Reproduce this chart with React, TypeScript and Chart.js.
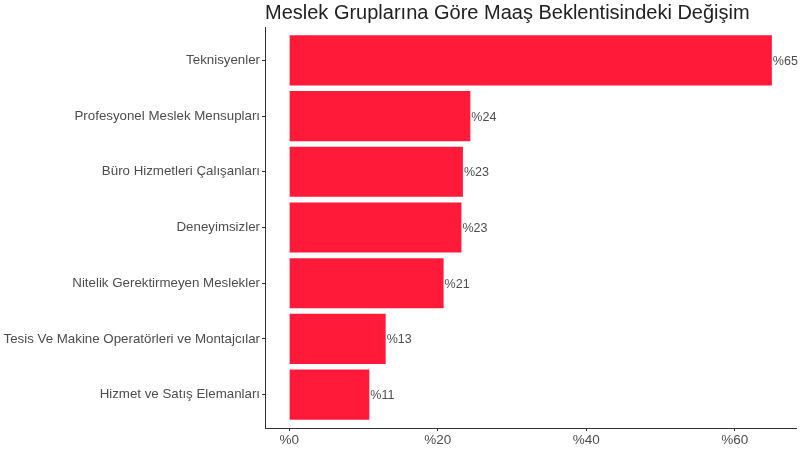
import { useEffect, useRef } from "react";
import { Chart, ChartConfiguration, Plugin, registerables } from "chart.js";

Chart.register(...registerables);

const categories = [
	"Teknisyenler",
	"Profesyonel Meslek Mensupları",
	"Büro Hizmetleri Çalışanları",
	"Deneyimsizler",
	"Nitelik Gerektirmeyen Meslekler",
	"Tesis Ve Makine Operatörleri ve Montajcılar",
	"Hizmet ve Satış Elemanları",
];
const changePct = [65, 24.4, 23.4, 23.2, 20.8, 13.0, 10.8];
const xTicks = [0, 20, 40, 60];

const title = "Meslek Gruplarına Göre Maaş Beklentisindeki Değişim";
const font = "'Liberation Sans', Arial, sans-serif";

type Pt = { x: number; y: number };

// title sits over the panel, left aligned with the axis line
const titlePlugin: Plugin<"bar"> = {
	id: "panelTitle",
	afterDraw(chart) {
		const ctx = chart.ctx;
		ctx.save();
		ctx.font = `20px ${font}`;
		ctx.fillStyle = "#222222";
		ctx.textAlign = "left";
		ctx.textBaseline = "alphabetic";
		ctx.fillText(title, chart.chartArea.left, 19);
		ctx.restore();
	},
};

const valueLabels: Plugin<"bar"> = {
	id: "valueLabels",
	afterDatasetsDraw(chart) {
		const ctx = chart.ctx;
		const meta = chart.getDatasetMeta(0);
		ctx.save();
		ctx.font = `12.5px ${font}`;
		ctx.fillStyle = "#4d4d4d";
		ctx.textAlign = "left";
		ctx.textBaseline = "middle";
		meta.data.forEach((bar, i) => {
			ctx.fillText("%" + Math.round(changePct[i]), bar.x + 1, bar.y + 1);
		});
		ctx.restore();
	},
};

export default function App() {
	const canvasRef = useRef<HTMLCanvasElement | null>(null);

	useEffect(() => {
		if (!canvasRef.current) return;
		const points: Pt[] = categories.map((_, i) => ({ x: changePct[i], y: i }));
		const config: ChartConfiguration<"bar", Pt[], string> = {
			type: "bar",
			data: {
				labels: categories,
				datasets: [
					{
						data: points,
						backgroundColor: "#FF1A3A",
						barPercentage: 0.9,
						categoryPercentage: 1,
					},
				],
			},
			options: {
				indexAxis: "y",
				responsive: false,
				animation: false,
				layout: {
					padding: { top: 27, right: 4, left: 0, bottom: 0 },
				},
				scales: {
					x: {
						type: "linear",
						min: -3.25,
						max: 68.25,
						afterBuildTicks: (scale) => {
							scale.ticks = xTicks.map((v) => ({ value: v }));
						},
						afterFit: (scale) => {
							scale.height = 21;
						},
						border: { display: true, color: "#333333", width: 1 },
						grid: {
							drawOnChartArea: false,
							drawTicks: true,
							tickLength: 3,
							color: "#333333",
						},
						ticks: {
							color: "#4d4d4d",
							padding: 1,
							font: { family: font, size: 13.5 },
							callback: (v) => "%" + v,
						},
					},
					y: {
						type: "linear",
						reverse: true,
						offset: false,
						min: -0.6,
						max: categories.length - 0.4,
						afterBuildTicks: (scale) => {
							scale.ticks = categories.map((_, i) => ({ value: i }));
						},
						afterFit: (scale) => {
							scale.width = 265;
						},
						border: { display: true, color: "#333333", width: 1 },
						grid: {
							offset: false,
							drawOnChartArea: false,
							drawTicks: true,
							tickLength: 3,
							color: "#333333",
						},
						ticks: {
							color: "#4d4d4d",
							padding: 2,
							font: { family: font, size: 13.3 },
							callback: (v) => categories[Number(v)] ?? "",
						},
					},
				},
				plugins: {
					legend: { display: false },
					tooltip: { enabled: false },
				},
			},
			plugins: [titlePlugin, valueLabels],
		};

		const chart = new Chart(canvasRef.current, config);
		return () => {
			chart.destroy();
		};
	}, []);

	return (
		<div
			style={{
				position: "fixed",
				left: 0,
				top: 0,
				width: 800,
				height: 449,
				background: "#ffffff",
			}}
		>
			<canvas ref={canvasRef} width={800} height={449}></canvas>
		</div>
	);
}
